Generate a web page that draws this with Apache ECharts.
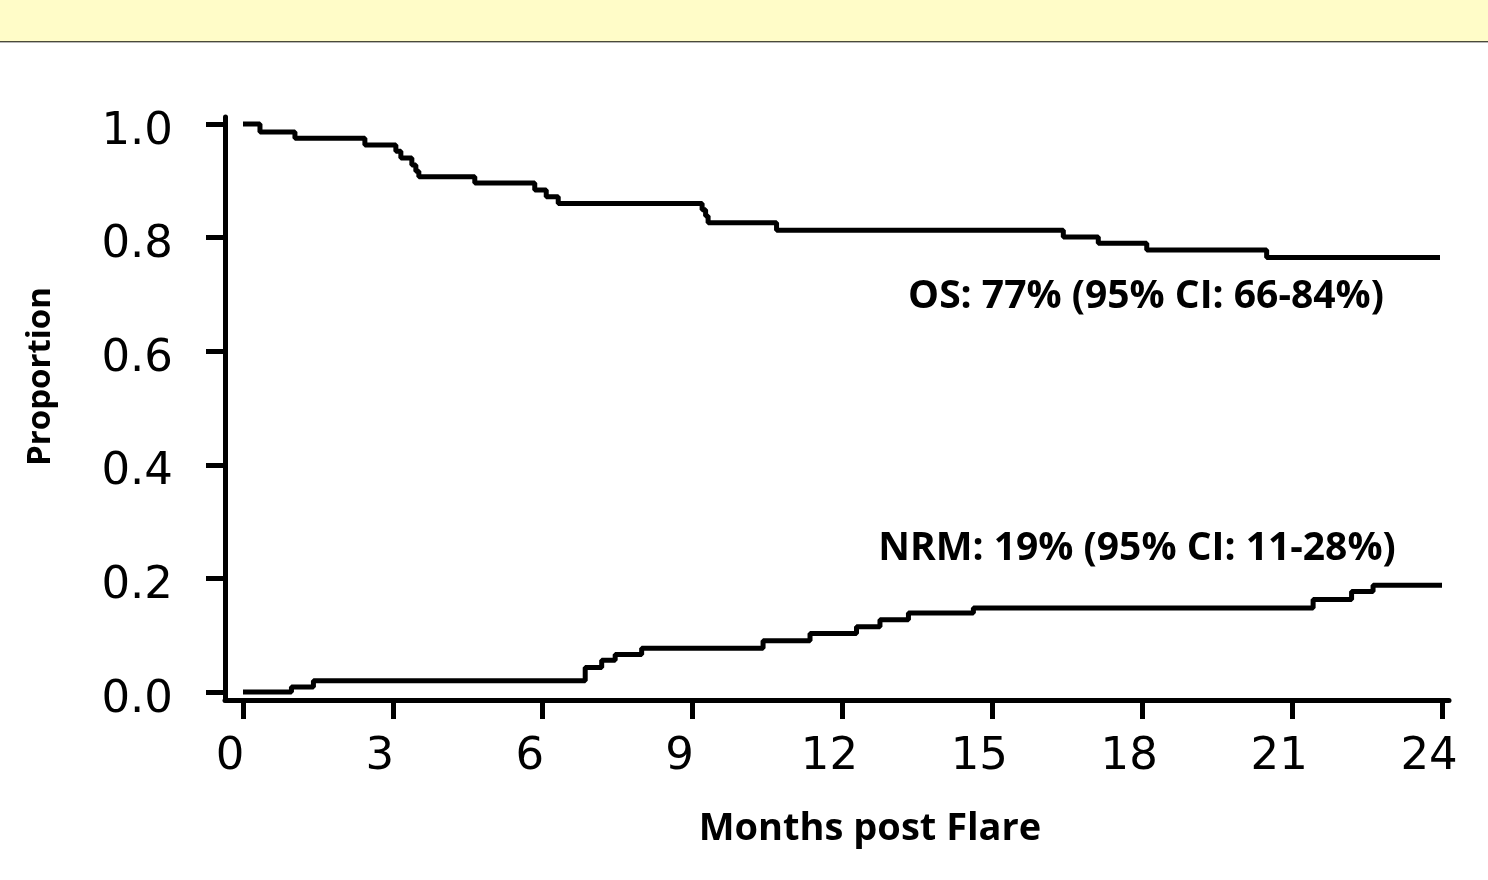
<!DOCTYPE html>
<html>
<head>
<meta charset="utf-8">
<title>OS / NRM post flare</title>
<script src="https://cdn.jsdelivr.net/npm/echarts@6/dist/echarts.min.js"></script>
<style>
  html, body { margin: 0; padding: 0; background: #fff; }
  #chart { width: 1488px; height: 880px; }
</style>
</head>
<body>
<div id="chart"></div>
<script>
// tick labels
const monthTicks = [0, 3, 6, 9, 12, 15, 18, 21, 24]
const propTicks = [0, 0.2, 0.4, 0.6, 0.8, 1.0]

// overall survival, step curve (month, proportion)
const osMonths = [0, 0.34, 1.04, 2.44, 3.06, 3.16, 3.38, 3.46, 3.52, 4.64, 5.84, 6.07, 6.31, 9.19, 9.26, 9.31, 10.68, 16.42, 17.12, 18.09, 20.49, 23.96]
const osValues = [1.0, 0.986, 0.975, 0.963, 0.952, 0.940, 0.928, 0.917, 0.907, 0.896, 0.884, 0.872, 0.860, 0.849, 0.838, 0.826, 0.813, 0.801, 0.790, 0.778, 0.765, 0.765]

// non-relapse mortality, step curve
const nrmMonths = [0, 0.97, 1.41, 6.85, 7.18, 7.45, 7.98, 10.41, 11.35, 12.28, 12.75, 13.32, 14.62, 21.42, 22.19, 22.62, 24.0]
const nrmValues = [0, 0.009, 0.020, 0.043, 0.056, 0.066, 0.077, 0.090, 0.103, 0.115, 0.127, 0.139, 0.148, 0.163, 0.177, 0.188, 0.188]

const osText = 'OS: 77% (95% CI: 66-84%)'
const nrmText = 'NRM: 19% (95% CI: 11-28%)'

const zip = (xs, ys) => xs.map((x, i) => [x, ys[i]])

const chart = echarts.init(document.getElementById('chart'))

const boldFont = '"Open Sans", "Liberation Sans", sans-serif'
const tickFont = '"DejaVu Sans", Verdana, sans-serif'

chart.setOption({
  backgroundColor: '#ffffff',
  animation: false,
  grid: {
    left: 225,
    right: 39,
    top: 117,
    bottom: 180
  },
  xAxis: {
    type: 'value',
    min: -0.36,
    max: 24.14,
    name: 'Months post Flare',
    nameLocation: 'middle',
    nameGap: 110,
    nameTextStyle: {
      fontFamily: boldFont,
      fontWeight: 'bold',
      fontSize: 38,
      color: '#000',
      padding: [0, 0, 0, 66]
    },
    splitLine: { show: false },
    axisLine: {
      onZero: false,
      lineStyle: { color: '#000', width: 5 }
    },
    axisTick: {
      customValues: monthTicks,
      inside: false,
      length: 19,
      lineStyle: { color: '#000', width: 5 }
    },
    axisLabel: {
      customValues: monthTicks,
      margin: 35,
      fontFamily: tickFont,
      fontSize: 45,
      color: '#000',
      padding: [0, 26, 0, 0]
    }
  },
  yAxis: {
    type: 'value',
    min: -0.0141,
    max: 1.0123,
    name: 'Proportion',
    nameLocation: 'middle',
    nameRotate: 90,
    nameGap: 168,
    nameTextStyle: {
      fontFamily: boldFont,
      fontWeight: 'bold',
      fontSize: 33,
      color: '#000',
      padding: [0, 0, 0, 64]
    },
    splitLine: { show: false },
    axisLine: {
      show: true,
      onZero: false,
      lineStyle: { color: '#000', width: 5 }
    },
    axisTick: {
      show: true,
      customValues: propTicks,
      length: 19,
      lineStyle: { color: '#000', width: 5 }
    },
    axisLabel: {
      customValues: propTicks,
      margin: 52,
      fontFamily: tickFont,
      fontSize: 45,
      color: '#000',
      verticalAlign: 'top',
      lineHeight: 16,
      formatter: v => v.toFixed(1)
    }
  },
  graphic: [
    {
      type: 'rect',
      left: 0,
      top: 0,
      shape: { width: 1488, height: 41 },
      style: { fill: '#fffcc8' },
      silent: true
    },
    {
      type: 'line',
      shape: { x1: 0, y1: 41.5, x2: 1488, y2: 41.5 },
      style: { stroke: '#4a4a3a', lineWidth: 1 },
      silent: true
    },
    {
      type: 'line',
      shape: { x1: 0, y1: 42.5, x2: 1488, y2: 42.5 },
      style: { stroke: '#b8b8b8', lineWidth: 1 },
      silent: true
    },
    {
      type: 'text',
      x: 1146,
      y: 297,
      style: {
        text: osText,
        font: 'bold 39px ' + boldFont,
        fill: '#000',
        align: 'center',
        verticalAlign: 'middle'
      }
    },
    {
      type: 'text',
      x: 1137,
      y: 549,
      style: {
        text: nrmText,
        font: 'bold 39px ' + boldFont,
        fill: '#000',
        align: 'center',
        verticalAlign: 'middle'
      }
    }
  ],
  series: [
    {
      name: 'OS',
      type: 'line',
      step: 'end',
      symbol: 'none',
      lineStyle: { color: '#000', width: 5 },
      data: zip(osMonths, osValues)
    },
    {
      name: 'NRM',
      type: 'line',
      step: 'end',
      symbol: 'none',
      lineStyle: { color: '#000', width: 5 },
      data: zip(nrmMonths, nrmValues)
    }
  ]
})
</script>
</body>
</html>
